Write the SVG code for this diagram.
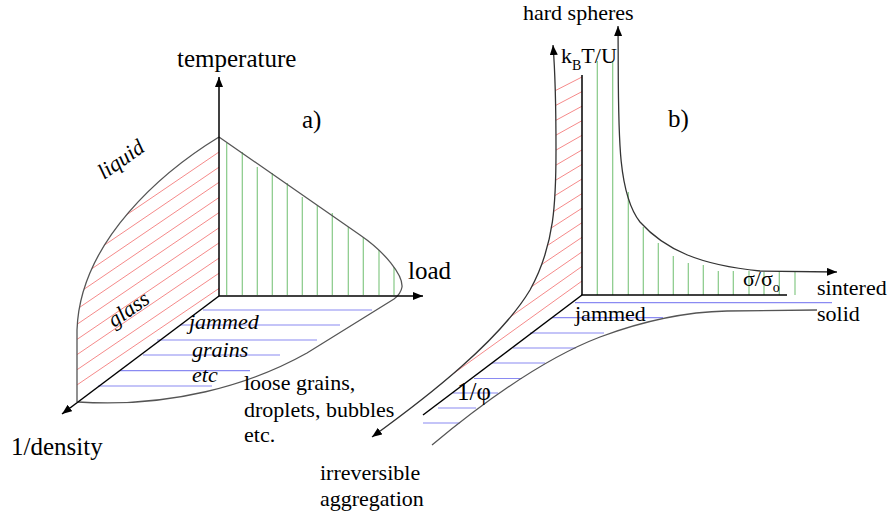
<svg xmlns="http://www.w3.org/2000/svg" width="890" height="514" viewBox="0 0 890 514" font-family="'Liberation Serif', 'Times New Roman', serif">
<defs>
<marker id="ah" viewBox="0 0 10 8" refX="10" refY="4" markerWidth="10" markerHeight="8" markerUnits="userSpaceOnUse" orient="auto-start-reverse"><path d="M0,0 L10,4 L0,8 Z" fill="#000"/></marker>
<clipPath id="clipRedA"><path d="M219,137 C165,170 80,240 77,330 L77,404 L219,296 Z"/></clipPath>
<clipPath id="clipRedB"><path d="M372,437 C430,395 500,340 530,290 C555,245 556,200 556,150 C556,100 555,70 553,45 L582,45 L582,295 L400,432 Z"/></clipPath>
</defs>
<style>
.ax{stroke:#000;stroke-width:1.5;fill:none}
.ol{stroke:#555;stroke-width:1.3;fill:none}
.rd line{stroke:#f58a8a;stroke-width:1}
.gr line{stroke:#86c986;stroke-width:1.2}
.bl line{stroke:#8a8af2;stroke-width:1.2}
.t{font-family:'Liberation Serif','Times New Roman',serif;font-size:22px;fill:#000}
.big{font-size:25px}
.it{font-style:italic}
</style>
<rect width="890" height="514" fill="#fff"/>

<!-- Panel a -->
<g id="a-red-hatch" class="rd" clip-path="url(#clipRedA)">
<line x1="219" y1="152" x2="60" y2="260.1"/>
<line x1="219" y1="167.2" x2="60" y2="275.3"/>
<line x1="219" y1="182.3" x2="60" y2="290.4"/>
<line x1="219" y1="197.5" x2="60" y2="305.6"/>
<line x1="219" y1="212.6" x2="60" y2="320.7"/>
<line x1="219" y1="227.8" x2="60" y2="335.9"/>
<line x1="219" y1="242.9" x2="60" y2="351"/>
<line x1="219" y1="258.1" x2="60" y2="366.2"/>
<line x1="219" y1="273.2" x2="60" y2="381.3"/>
<line x1="219" y1="288.4" x2="60" y2="396.5"/>
</g>
<g id="a-green-hatch" class="gr">
<line x1="226.7" y1="143" x2="226.7" y2="295"/>
<line x1="242.3" y1="152" x2="242.3" y2="295"/>
<line x1="257.3" y1="167" x2="257.3" y2="295"/>
<line x1="272.3" y1="173" x2="272.3" y2="295"/>
<line x1="287.3" y1="183" x2="287.3" y2="295"/>
<line x1="302.3" y1="197" x2="302.3" y2="295"/>
<line x1="317.3" y1="205" x2="317.3" y2="295"/>
<line x1="332.3" y1="213" x2="332.3" y2="295"/>
<line x1="348.3" y1="227" x2="348.3" y2="295"/>
<line x1="363.3" y1="237" x2="363.3" y2="295"/>
<line x1="379" y1="250" x2="379" y2="295"/>
<line x1="394" y1="267" x2="394" y2="295"/>
</g>
<g id="a-blue-hatch" class="bl">
<line x1="203" y1="310" x2="372" y2="310"/>
<line x1="180" y1="325" x2="340" y2="325"/>
<line x1="157" y1="340" x2="317" y2="340"/>
<line x1="143" y1="355" x2="280" y2="355"/>
<line x1="120" y1="370.7" x2="250" y2="370.7"/>
<line x1="98" y1="386" x2="212" y2="386"/>
</g>
<g id="a-outline">
<path class="ol" d="M219,137 C165,170 80,240 77,330 L77,402"/>
<path class="ol" d="M219,137 L360,235 C385,252 403,275 402,287 C401,293 398,296 394,299 L307,353 C250,385 170,408 78,402"/>
</g>
<g id="a-axes">
<line class="ax" x1="219" y1="296" x2="219" y2="77" marker-end="url(#ah)"/>
<line class="ax" x1="219" y1="296" x2="423" y2="296" marker-end="url(#ah)"/>
<line class="ax" x1="219" y1="296" x2="62" y2="414" marker-end="url(#ah)"/>
</g>
<g id="a-labels" font-family="'Liberation Serif', 'Times New Roman', serif">
<text class="t big" x="177" y="67">temperature</text>
<text class="t big" x="408" y="279">load</text>
<text class="t big" x="11" y="455">1/density</text>
<text class="t big" x="302" y="128">a)</text>
<text class="t it" transform="translate(104,180) rotate(-35)">liquid</text>
<text class="t it" transform="translate(114,328) rotate(-35)">glass</text>
<text class="t it" x="189" y="329">jammed</text>
<text class="t it" x="192" y="357">grains</text>
<text class="t it" x="192" y="382">etc</text>
<text class="t" x="244" y="390">loose grains,</text>
<text class="t" x="244" y="417">droplets, bubbles</text>
<text class="t" x="244" y="442">etc.</text>
</g>

<!-- Panel b -->
<g id="b-red-hatch" class="rd" clip-path="url(#clipRedB)">
<line x1="582" y1="281" x2="440" y2="383.2"/>
<line x1="582" y1="266.4" x2="440" y2="366.5"/>
<line x1="582" y1="251.9" x2="440" y2="349.9"/>
<line x1="582" y1="237.3" x2="440" y2="333.1"/>
<line x1="582" y1="222.7" x2="440" y2="316.4"/>
<line x1="582" y1="208.2" x2="440" y2="299.8"/>
<line x1="582" y1="193.6" x2="440" y2="283.1"/>
<line x1="582" y1="179" x2="440" y2="266.3"/>
<line x1="582" y1="164.4" x2="440" y2="249.6"/>
<line x1="582" y1="149.9" x2="440" y2="233"/>
<line x1="582" y1="135.3" x2="440" y2="216.2"/>
<line x1="582" y1="120.7" x2="440" y2="199.5"/>
<line x1="582" y1="106.2" x2="440" y2="182.9"/>
<line x1="582" y1="91.6" x2="440" y2="166.2"/>
<line x1="582" y1="77" x2="440" y2="149.4"/>
</g>
<g id="b-green-hatch" class="gr">
<line x1="597.3" y1="61" x2="597.3" y2="295"/>
<line x1="612.7" y1="61" x2="612.7" y2="295"/>
<line x1="628.3" y1="192" x2="628.3" y2="295"/>
<line x1="643.3" y1="227" x2="643.3" y2="295"/>
<line x1="658.3" y1="243" x2="658.3" y2="295"/>
<line x1="673.3" y1="256" x2="673.3" y2="295"/>
<line x1="688.3" y1="263" x2="688.3" y2="295"/>
<line x1="703.3" y1="265" x2="703.3" y2="295"/>
<line x1="718.3" y1="271" x2="718.3" y2="295"/>
<line x1="733.3" y1="271" x2="733.3" y2="295"/>
<line x1="749" y1="271" x2="749" y2="295"/>
<line x1="764" y1="272" x2="764" y2="295"/>
<line x1="779.3" y1="272" x2="779.3" y2="295"/>
<line x1="795" y1="272" x2="795" y2="295"/>
</g>
<g id="b-blue-hatch" class="bl">
<line x1="575" y1="302.7" x2="832" y2="302.7"/>
<line x1="552" y1="317.7" x2="663" y2="317.7"/>
<line x1="530" y1="333" x2="604" y2="333"/>
<line x1="513" y1="348" x2="576" y2="348"/>
<line x1="492" y1="363" x2="545" y2="363"/>
<line x1="474" y1="378.5" x2="522" y2="378.5"/>
<line x1="453" y1="393" x2="498" y2="393"/>
<line x1="438" y1="408" x2="476" y2="408"/>
<line x1="423" y1="423" x2="460" y2="423"/>
</g>
<g id="b-frame">
<line class="ax" x1="582" y1="75" x2="582" y2="295"/>
<line class="ax" x1="581.3" y1="295" x2="787" y2="295"/>
<line class="ax" x1="582" y1="295" x2="423" y2="415"/>
</g>
<g id="connectors">
<path class="ol" style="stroke:#333" d="M372,437 C430,395 500,340 530,290 C555,245 556,200 556,150 C556,100 555,70 553,45" marker-start="url(#ah)" marker-end="url(#ah)"/>
<path class="ol" style="stroke:#333" d="M618,26 C619,120 615,190 640,222 C665,250 700,265 760,271 L837,272" marker-start="url(#ah)" marker-end="url(#ah)"/>
<path class="ol" d="M432,445 C480,405 540,360 600,337 C640,322 680,312 727,311 L817,310"/>
</g>
<g id="b-labels" font-family="'Liberation Serif', 'Times New Roman', serif">
<text class="t big" x="668" y="127">b)</text>
<text class="t" x="523" y="20">hard spheres</text>
<text class="t" x="561" y="63">k<tspan font-size="14" dy="7">B</tspan><tspan dy="-7">T/U</tspan></text>
<text class="t" x="743" y="286">σ/σ<tspan font-size="14" dy="6">o</tspan></text>
<text class="t" x="817" y="295">sintered</text>
<text class="t" x="817" y="321">solid</text>
<text class="t" x="575" y="321">jammed</text>
<text class="t big" x="457" y="400">1/φ</text>
<text class="t" x="320" y="480">irreversible</text>
<text class="t" x="320" y="506">aggregation</text>
</g>
</svg>
